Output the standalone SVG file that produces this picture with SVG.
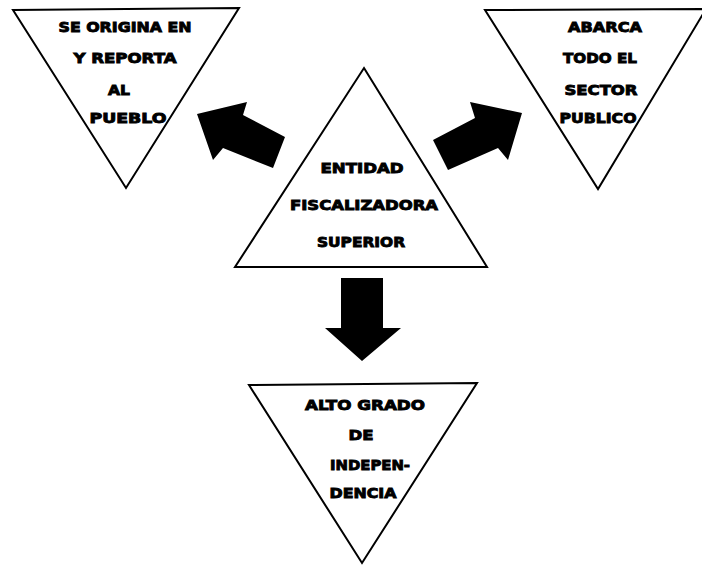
<svg xmlns="http://www.w3.org/2000/svg" width="702" height="566" viewBox="0 0 702 566">
<style>
.tri{fill:#fff;stroke:#000;stroke-width:2;stroke-linejoin:miter}
.lbl{font-family:"DejaVu Sans","Liberation Sans",Arial,sans-serif;font-weight:bold;font-size:14px;fill:#000;stroke:#000;stroke-width:0.9;text-anchor:middle}
.arr{fill:#000;stroke:none}
</style>
<rect width="702" height="566" fill="#fff"/>
<g id="connectors">
<polygon class="arr" points="197,114 247,102 243,115 285,137 273,168 223,148 213,160"/>
<polygon class="arr" points="522,113 508,160 498,148 448,170 433,140 475,118 470,102"/>
<polygon class="arr" points="341,278 383,278 383,328 401,328 362,361 325,328 341,328"/>
</g>
<g id="node-origina">
<polygon class="tri" points="13,10 239,8 126,188"/>
<text class="lbl" x="125" y="32" textLength="133" lengthAdjust="spacingAndGlyphs">SE ORIGINA EN</text>
<text class="lbl" x="125" y="63" textLength="103" lengthAdjust="spacingAndGlyphs">Y REPORTA</text>
<text class="lbl" x="119" y="95" textLength="22" lengthAdjust="spacingAndGlyphs">AL</text>
<text class="lbl" x="128" y="123" textLength="77" lengthAdjust="spacingAndGlyphs">PUEBLO</text>
</g>
<g id="node-abarca">
<polygon class="tri" points="485,10 706,9 598,189"/>
<text class="lbl" x="605" y="32" textLength="74" lengthAdjust="spacingAndGlyphs">ABARCA</text>
<text class="lbl" x="600" y="63" textLength="74" lengthAdjust="spacingAndGlyphs">TODO EL</text>
<text class="lbl" x="601" y="95" textLength="73" lengthAdjust="spacingAndGlyphs">SECTOR</text>
<text class="lbl" x="598" y="123" textLength="77" lengthAdjust="spacingAndGlyphs">PUBLICO</text>
</g>
<g id="node-entidad">
<polygon class="tri" points="364,68 487,267 235,267"/>
<text class="lbl" x="362" y="173" textLength="83" lengthAdjust="spacingAndGlyphs">ENTIDAD</text>
<text class="lbl" x="364" y="210" textLength="148" lengthAdjust="spacingAndGlyphs">FISCALIZADORA</text>
<text class="lbl" x="361" y="247" textLength="88" lengthAdjust="spacingAndGlyphs">SUPERIOR</text>
</g>
<g id="node-independencia">
<polygon class="tri" points="249,385 477,383 362,563"/>
<text class="lbl" x="365" y="410" textLength="120" lengthAdjust="spacingAndGlyphs">ALTO GRADO</text>
<text class="lbl" x="361" y="440" textLength="25" lengthAdjust="spacingAndGlyphs">DE</text>
<text class="lbl" x="370" y="470" textLength="80" lengthAdjust="spacingAndGlyphs">INDEPEN-</text>
<text class="lbl" x="363" y="498" textLength="67" lengthAdjust="spacingAndGlyphs">DENCIA</text>
</g>
</svg>
